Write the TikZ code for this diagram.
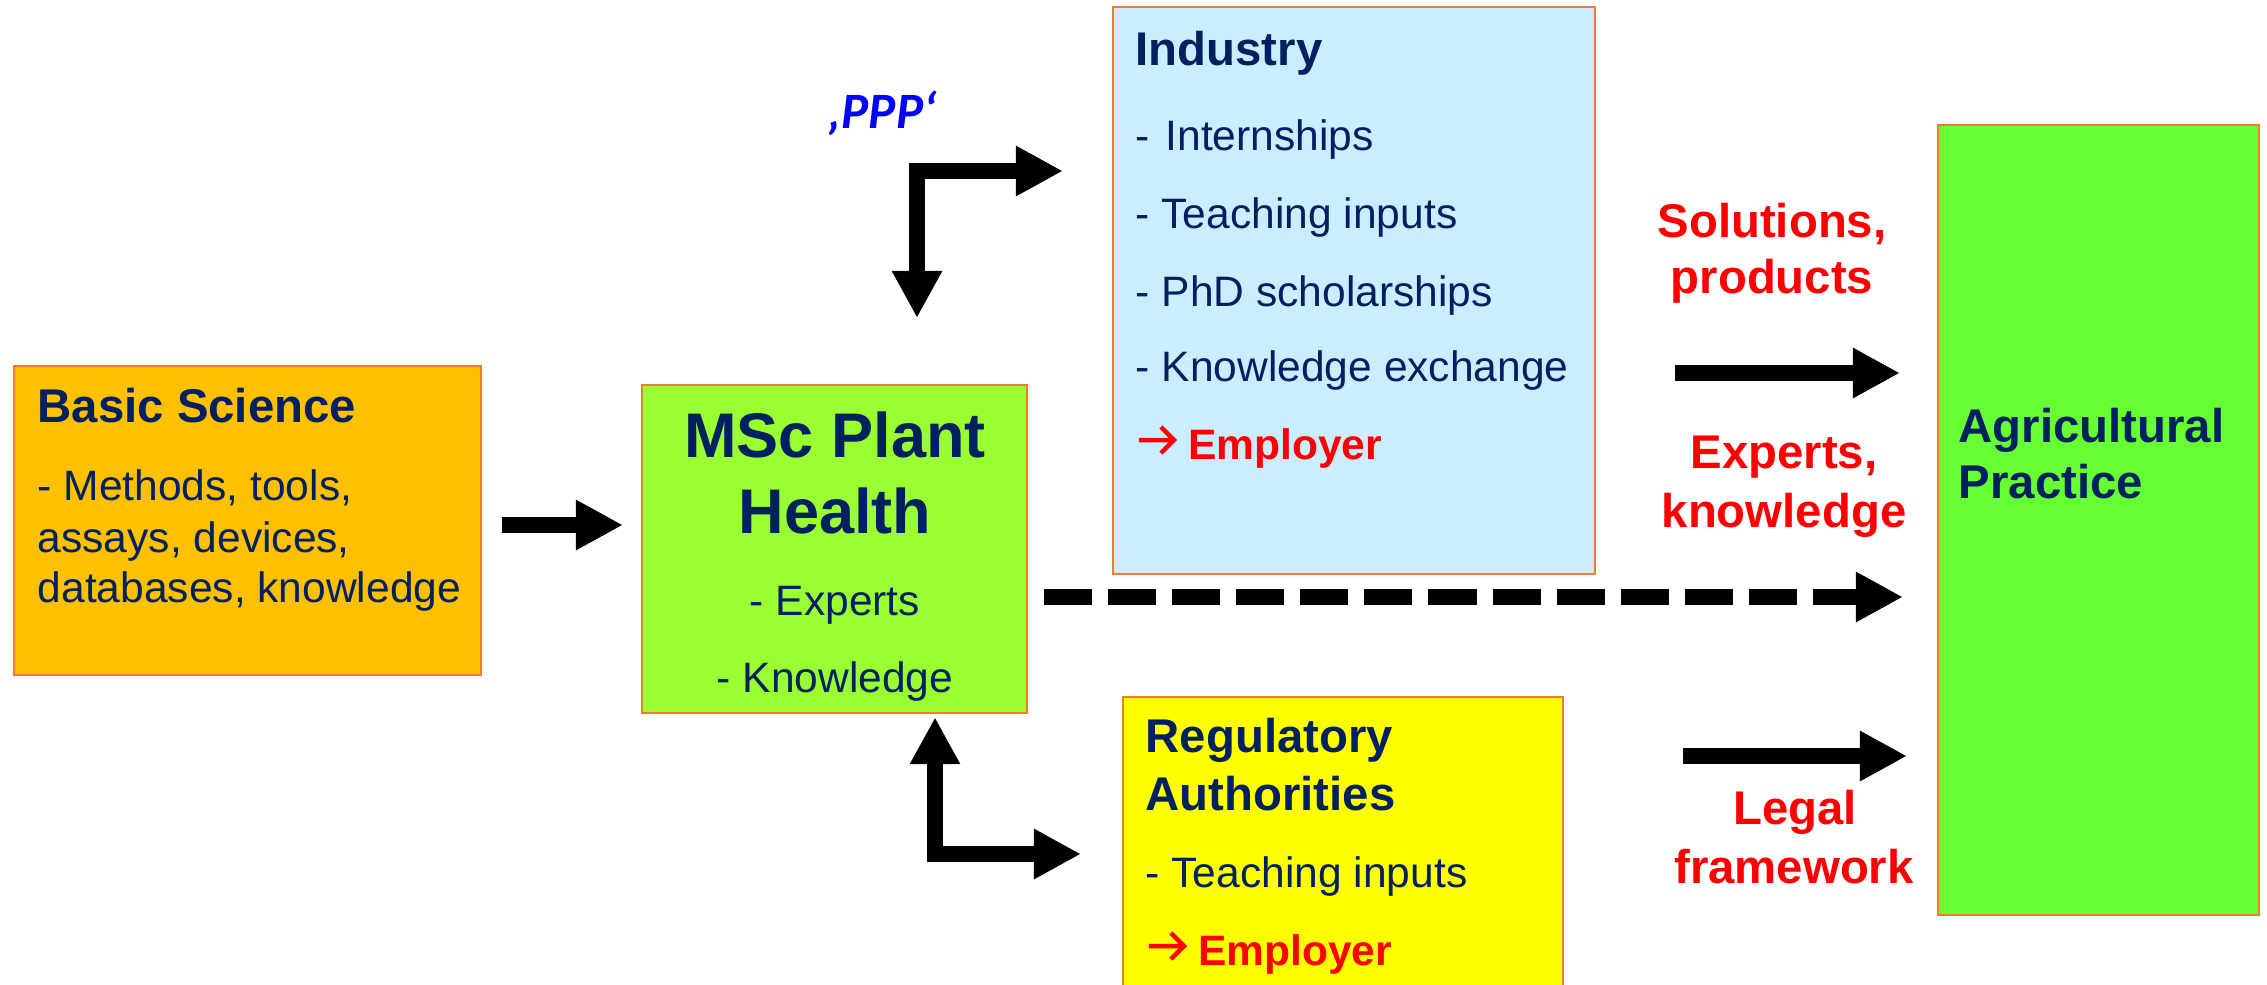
\documentclass[tikz,border=0pt]{standalone}
\usepackage{fontspec}
\setmainfont{Liberation Sans}
\newfontfamily\ppfont{Carlito}
\usetikzlibrary{arrows.meta}
\definecolor{navy}{RGB}{0,32,96}
\definecolor{bord}{RGB}{237,125,49}
\definecolor{fbs}{RGB}{255,192,0}
\definecolor{fmsc}{RGB}{153,255,51}
\definecolor{find}{RGB}{204,236,255}
\definecolor{freg}{RGB}{255,255,0}
\definecolor{fagr}{RGB}{102,255,51}
\definecolor{pblue}{RGB}{0,0,255}
\definecolor{ared}{RGB}{255,0,0}
\newcommand{\emparrow}{\tikz[baseline=0pt, x=1cm, y=1cm]{\draw[ared, line width=0.045cm, line join=miter, line cap=butt] (0,0.19) -- (0.35,0.19) (0.22,0.32) -- (0.35,0.19) -- (0.22,0.06);}}
\begin{document}
\begin{tikzpicture}[x=0.01cm,y=-0.01cm,
  box/.style={draw=bord, line width=0.02cm, anchor=north west, inner sep=0pt, outer sep=0pt},
  txt/.style={anchor=base west, inner sep=0pt, text=navy, font=\fontsize{12.1pt}{14pt}\selectfont},
  hd/.style={anchor=base west, inner sep=0pt, text=navy, font=\fontsize{13.46pt}{16pt}\selectfont\bfseries},
  big/.style={anchor=base, inner sep=0pt, text=navy, font=\fontsize{17.93pt}{21pt}\selectfont\bfseries},
  ctxt/.style={txt, anchor=base},
  lab/.style={anchor=base, inner sep=0pt, text=ared, font=\fontsize{13.46pt}{16pt}\selectfont\bfseries},
  emp/.style={txt, text=ared},
  arr/.style={line width=0.16cm, -{Triangle[length=0.47cm,width=0.47cm]}},
  arrboth/.style={line width=0.16cm, line join=miter, {Triangle[length=0.47cm,width=0.47cm]}-{Triangle[length=0.47cm,width=0.47cm]}},
  dasharr/.style={arr, dash pattern=on 0.48cm off 0.16cm}
]
\fill[white] (0,0) rectangle (2267,984);
\useasboundingbox (0,0) rectangle (2267,984);

% boxes
\node[box, fill=fbs, minimum width=4.67cm, minimum height=3.09cm] (bs) at (14,366) {};
\node[box, fill=fmsc, minimum width=3.85cm, minimum height=3.28cm] (msc) at (642,385) {};
\node[box, fill=find, minimum width=4.82cm, minimum height=5.67cm] (ind) at (1113,7) {};
\node[box, fill=freg, minimum width=4.40cm, minimum height=3.00cm] (reg) at (1123,697) {};
\node[box, fill=fagr, minimum width=3.21cm, minimum height=7.90cm] (agr) at (1938,125) {};

% Basic Science text
\node[hd] (bs0) at (37,422) {Basic Science};
\node[txt] (bs1) at (37,500) {- Methods, tools,};
\node[txt] (bs2) at (37,552) {assays, devices,};
\node[txt] (bs3) at (37,602) {databases, knowledge};

% MSc text
\node[big] (msc0) at (835,457) {MSc Plant};
\node[big] (msc1) at (835,533) {Health};
\node[ctxt] (msc2) at (835,615) {- Experts};
\node[ctxt] (msc3) at (835,692) {- Knowledge};

% Industry text
\node[hd] (ind0) at (1135,65) {Industry};
\node[txt] (ind1) at (1135,150) {-\kern0.04cm\ Internships};
\node[txt] (ind2) at (1135,228) {- Teaching inputs};
\node[txt] (ind3) at (1135,306) {- PhD scholarships};
\node[txt] (ind4) at (1135,381) {- Knowledge exchange};
\node[emp] (ind5) at (1136,459) {\emparrow\ \textbf{Employer}};

% Regulatory text
\node[hd] (reg0) at (1145,752) {Regulatory};
\node[hd] (reg1) at (1145,810) {Authorities};
\node[txt] (reg2) at (1145,887) {- Teaching inputs};
\node[emp] (reg3) at (1146,965) {\emparrow\ \textbf{Employer}};

% Agricultural text
\node[hd] (agr0) at (1958,442) {Agricultural};
\node[hd] (agr1) at (1958,498) {Practice};

% red labels
\node[lab] (l1a) at (1772,237) {Solutions,};
\node[lab] (l1b) at (1772,293) {products};
\node[lab] (l2a) at (1784,468) {Experts,};
\node[lab] (l2b) at (1784,527) {knowledge};
\node[lab] (l3a) at (1795,824) {Legal};
\node[lab] (l3b) at (1794,883) {framework};

% PPP
\node[anchor=base west, inner sep=0pt, text=pblue, font=\fontsize{14.5pt}{17pt}\selectfont\ppfont\bfseries\itshape] (ppp) at (828,128) {‚PPP‘};

% connectors
\coordinate (y1) at (0,525);
\draw[arr, shorten <=0.21cm, shorten >=0.19cm] (bs.east |- y1) -- (msc.west |- y1);

\coordinate (c1) at (917,171);
\draw[arrboth, shorten <=0.67cm, shorten >=0.50cm] (msc.north -| c1) -- (c1) -- (ind.west |- c1);

\coordinate (c2) at (935,854);
\draw[arrboth, shorten <=0.04cm, shorten >=0.42cm] (msc.south -| c2) -- (c2) -- (reg.west |- c2);

\coordinate (y2) at (0,373);
\draw[arr, shorten <=0.80cm, shorten >=0.38cm] (ind.east |- y2) -- (agr.west |- y2);

\coordinate (y3) at (0,597);
\draw[dasharr, shorten <=0.17cm, shorten >=0.35cm] (msc.east |- y3) -- (agr.west |- y3);

\coordinate (y4) at (0,756);
\draw[arr, shorten <=1.20cm, shorten >=0.31cm] (reg.east |- y4) -- (agr.west |- y4);
\end{tikzpicture}
\end{document}
